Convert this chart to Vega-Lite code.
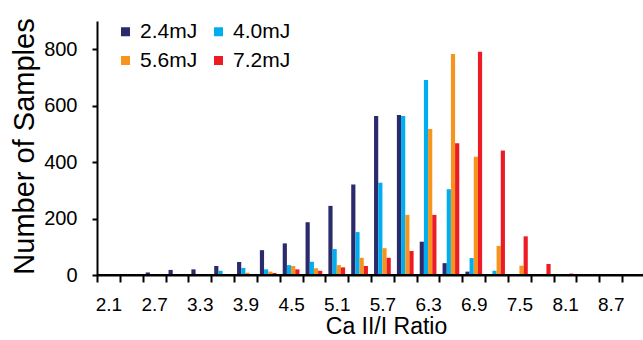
{
  "$schema": "https://vega.github.io/schema/vega-lite/v6.json",
  "width": 548,
  "height": 254,
  "autosize": {"type": "none"},
  "padding": {"left": 97, "top": 21, "right": 0, "bottom": 65},
  "config": {
    "view": {"stroke": "transparent", "strokeWidth": 0},
    "axis": {"domainColor": "#000000", "tickColor": "#000000", "domainWidth": 2, "tickWidth": 2, "labelFont": "Liberation Sans", "titleFont": "Liberation Sans"},
    "legend": {"labelFont": "Liberation Sans"}
  },
  "data": {
    "values": [
      {"ratio": "2.1", "energy": "2.4mJ", "count": 3}, {"ratio": "2.1", "energy": "4.0mJ", "count": 0}, {"ratio": "2.1", "energy": "5.6mJ", "count": 0}, {"ratio": "2.1", "energy": "7.2mJ", "count": 0},
      {"ratio": "2.4", "energy": "2.4mJ", "count": 2}, {"ratio": "2.4", "energy": "4.0mJ", "count": 1}, {"ratio": "2.4", "energy": "5.6mJ", "count": 1}, {"ratio": "2.4", "energy": "7.2mJ", "count": 1},
      {"ratio": "2.7", "energy": "2.4mJ", "count": 9}, {"ratio": "2.7", "energy": "4.0mJ", "count": 1}, {"ratio": "2.7", "energy": "5.6mJ", "count": 1}, {"ratio": "2.7", "energy": "7.2mJ", "count": 0},
      {"ratio": "3.0", "energy": "2.4mJ", "count": 18}, {"ratio": "3.0", "energy": "4.0mJ", "count": 1}, {"ratio": "3.0", "energy": "5.6mJ", "count": 1}, {"ratio": "3.0", "energy": "7.2mJ", "count": 1},
      {"ratio": "3.3", "energy": "2.4mJ", "count": 20}, {"ratio": "3.3", "energy": "4.0mJ", "count": 1}, {"ratio": "3.3", "energy": "5.6mJ", "count": 1}, {"ratio": "3.3", "energy": "7.2mJ", "count": 1},
      {"ratio": "3.6", "energy": "2.4mJ", "count": 32}, {"ratio": "3.6", "energy": "4.0mJ", "count": 15}, {"ratio": "3.6", "energy": "5.6mJ", "count": 2}, {"ratio": "3.6", "energy": "7.2mJ", "count": 0},
      {"ratio": "3.9", "energy": "2.4mJ", "count": 46}, {"ratio": "3.9", "energy": "4.0mJ", "count": 25}, {"ratio": "3.9", "energy": "5.6mJ", "count": 8}, {"ratio": "3.9", "energy": "7.2mJ", "count": 2},
      {"ratio": "4.2", "energy": "2.4mJ", "count": 88}, {"ratio": "4.2", "energy": "4.0mJ", "count": 20}, {"ratio": "4.2", "energy": "5.6mJ", "count": 12}, {"ratio": "4.2", "energy": "7.2mJ", "count": 7},
      {"ratio": "4.5", "energy": "2.4mJ", "count": 112}, {"ratio": "4.5", "energy": "4.0mJ", "count": 35}, {"ratio": "4.5", "energy": "5.6mJ", "count": 32}, {"ratio": "4.5", "energy": "7.2mJ", "count": 20},
      {"ratio": "4.8", "energy": "2.4mJ", "count": 187}, {"ratio": "4.8", "energy": "4.0mJ", "count": 47}, {"ratio": "4.8", "energy": "5.6mJ", "count": 24}, {"ratio": "4.8", "energy": "7.2mJ", "count": 15},
      {"ratio": "5.1", "energy": "2.4mJ", "count": 245}, {"ratio": "5.1", "energy": "4.0mJ", "count": 92}, {"ratio": "5.1", "energy": "5.6mJ", "count": 35}, {"ratio": "5.1", "energy": "7.2mJ", "count": 27},
      {"ratio": "5.4", "energy": "2.4mJ", "count": 321}, {"ratio": "5.4", "energy": "4.0mJ", "count": 152}, {"ratio": "5.4", "energy": "5.6mJ", "count": 61}, {"ratio": "5.4", "energy": "7.2mJ", "count": 32},
      {"ratio": "5.7", "energy": "2.4mJ", "count": 563}, {"ratio": "5.7", "energy": "4.0mJ", "count": 327}, {"ratio": "5.7", "energy": "5.6mJ", "count": 95}, {"ratio": "5.7", "energy": "7.2mJ", "count": 61},
      {"ratio": "6.0", "energy": "2.4mJ", "count": 567}, {"ratio": "6.0", "energy": "4.0mJ", "count": 563}, {"ratio": "6.0", "energy": "5.6mJ", "count": 213}, {"ratio": "6.0", "energy": "7.2mJ", "count": 85},
      {"ratio": "6.3", "energy": "2.4mJ", "count": 118}, {"ratio": "6.3", "energy": "4.0mJ", "count": 691}, {"ratio": "6.3", "energy": "5.6mJ", "count": 517}, {"ratio": "6.3", "energy": "7.2mJ", "count": 213},
      {"ratio": "6.6", "energy": "2.4mJ", "count": 42}, {"ratio": "6.6", "energy": "4.0mJ", "count": 304}, {"ratio": "6.6", "energy": "5.6mJ", "count": 783}, {"ratio": "6.6", "energy": "7.2mJ", "count": 467},
      {"ratio": "6.9", "energy": "2.4mJ", "count": 12}, {"ratio": "6.9", "energy": "4.0mJ", "count": 60}, {"ratio": "6.9", "energy": "5.6mJ", "count": 419}, {"ratio": "6.9", "energy": "7.2mJ", "count": 791},
      {"ratio": "7.2", "energy": "2.4mJ", "count": 2}, {"ratio": "7.2", "energy": "4.0mJ", "count": 15}, {"ratio": "7.2", "energy": "5.6mJ", "count": 103}, {"ratio": "7.2", "energy": "7.2mJ", "count": 441},
      {"ratio": "7.5", "energy": "2.4mJ", "count": 3}, {"ratio": "7.5", "energy": "4.0mJ", "count": 2}, {"ratio": "7.5", "energy": "5.6mJ", "count": 33}, {"ratio": "7.5", "energy": "7.2mJ", "count": 137},
      {"ratio": "7.8", "energy": "2.4mJ", "count": 1}, {"ratio": "7.8", "energy": "4.0mJ", "count": 1}, {"ratio": "7.8", "energy": "5.6mJ", "count": 4}, {"ratio": "7.8", "energy": "7.2mJ", "count": 39},
      {"ratio": "8.1", "energy": "2.4mJ", "count": 0}, {"ratio": "8.1", "energy": "4.0mJ", "count": 1}, {"ratio": "8.1", "energy": "5.6mJ", "count": 2}, {"ratio": "8.1", "energy": "7.2mJ", "count": 5},
      {"ratio": "8.4", "energy": "2.4mJ", "count": 3}, {"ratio": "8.4", "energy": "4.0mJ", "count": 2}, {"ratio": "8.4", "energy": "5.6mJ", "count": 2}, {"ratio": "8.4", "energy": "7.2mJ", "count": 2},
      {"ratio": "8.7", "energy": "2.4mJ", "count": 0}, {"ratio": "8.7", "energy": "4.0mJ", "count": 0}, {"ratio": "8.7", "energy": "5.6mJ", "count": 2}, {"ratio": "8.7", "energy": "7.2mJ", "count": 2},
      {"ratio": "9.0", "energy": "2.4mJ", "count": 0}, {"ratio": "9.0", "energy": "4.0mJ", "count": 2}, {"ratio": "9.0", "energy": "5.6mJ", "count": 2}, {"ratio": "9.0", "energy": "7.2mJ", "count": 0}
    ]
  },
  "layer": [
    {
      "mark": {"type": "bar"},
      "encoding": {
        "x": {
          "field": "ratio",
          "type": "ordinal",
          "sort": null,
          "scale": {"paddingInner": 0, "paddingOuter": 0},
          "axis": {
            "title": "Ca II/I Ratio",
            "titleFontSize": 23,
            "titleFontWeight": "normal",
            "titleColor": "black",
            "titleX": 289,
            "titleY": 58,
            "titleBaseline": "alphabetic",
            "titleAlign": "center",
            "labelFontSize": 19,
            "labelColor": "black",
            "labelAngle": 0,
            "labelPadding": 13,
            "labelOverlap": false,
            "labelExpr": "(round(toNumber(datum.value)*10) - 21) % 6 == 0 ? datum.label : ''",
            "tickBand": "extent",
            "tickSize": 7,
            "grid": false
          }
        },
        "xOffset": {
          "field": "energy",
          "type": "nominal",
          "scale": {"paddingInner": 0, "paddingOuter": 0.73}
        },
        "y": {
          "field": "count",
          "type": "quantitative",
          "scale": {"domain": [0, 900], "nice": false},
          "axis": {
            "title": "Number of Samples",
            "titleFontSize": 29,
            "titleFontWeight": "normal",
            "titleColor": "black",
            "titleAngle": -90,
            "titleX": -64,
            "titleY": 125,
            "titleBaseline": "alphabetic",
            "titleAlign": "center",
            "values": [0, 100, 200, 300, 400, 500, 600, 700, 800, 900],
            "labelFontSize": 20,
            "labelColor": "black",
            "labelPadding": 15,
            "tickSize": 5,
            "grid": false
          }
        },
        "color": {
          "field": "energy",
          "type": "nominal",
          "scale": {
            "domain": ["2.4mJ", "4.0mJ", "5.6mJ", "7.2mJ"],
            "range": ["#2A2A6C", "#00AEEF", "#F7941D", "#ED1C24"]
          },
          "legend": {
            "orient": "none",
            "legendX": 18,
            "legendY": 0,
            "columns": 2,
            "direction": "horizontal",
            "title": null,
            "symbolType": "square",
            "symbolSize": 81,
            "symbolStrokeWidth": 0,
            "symbolOpacity": 1,
            "labelFontSize": 21,
            "labelColor": "black",
            "labelOffset": 4,
            "labelLimit": 200,
            "columnPadding": 10,
            "rowPadding": 7,
            "padding": 0
          }
        }
      }
    },
    {
      "mark": {"type": "rule", "color": "#000000", "strokeWidth": 2},
      "encoding": {"y": {"datum": 0, "type": "quantitative"}}
    }
  ]
}
